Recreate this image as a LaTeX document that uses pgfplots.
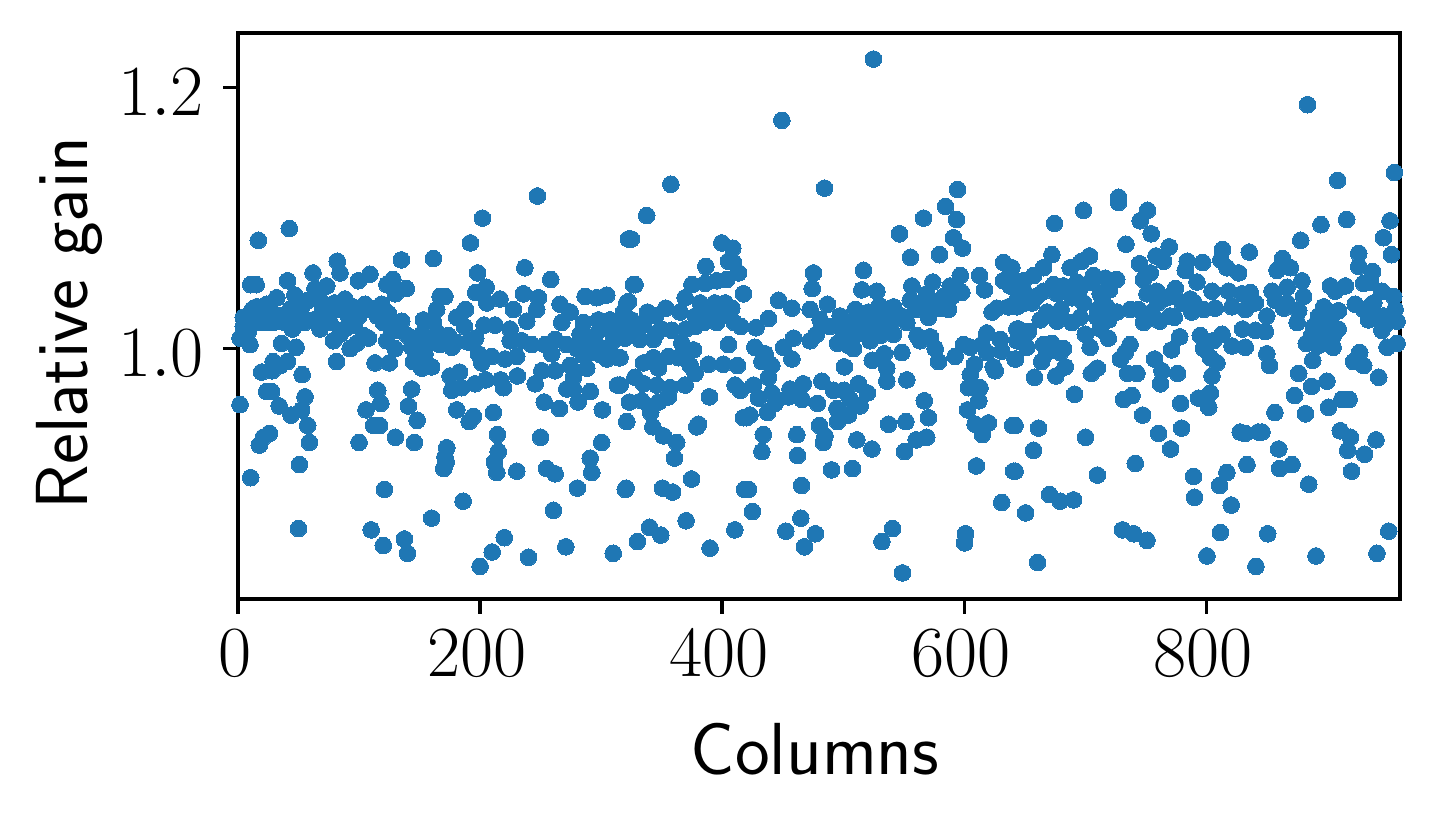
\documentclass[border=0pt]{standalone}
\usepackage{pgfplots}
\pgfplotsset{compat=1.18}
\definecolor{tabblue}{HTML}{1F77B4}
\begin{document}
\begin{tikzpicture}
\useasboundingbox (-57.12pt,-53.28pt) rectangle (286.8pt,143.76pt);
\begin{axis}[
  at={(0,0)}, anchor=south west,
  scale only axis, width=278.88pt, height=135.84pt,
  xmin=0, xmax=960, ymin=0.808, ymax=1.242,
  xtick={0,200,400,600,800}, ytick={1.0,1.2},
  tick align=outside, tick pos=left, major tick length=3.5pt,
  axis line style={line width=0.8pt}, every tick/.style={line width=0.8pt,black},
  axis on top,
  tick label style={font=\fontsize{16}{19}\selectfont},
  xticklabel style={xshift=-0.7pt,yshift=-0.5pt},
  yticklabel style={xshift=-1.2pt,yshift=-1.2pt,/pgf/number format/fixed,/pgf/number format/fixed zerofill,/pgf/number format/precision=1},
  xlabel={Columns}, ylabel={Relative gain},
  xlabel style={at={(axis description cs:0.4966,-0.265)},anchor=center,font=\fontsize{17.7}{21}\selectfont\sffamily},
  ylabel style={at={(axis description cs:-0.1454,0.4876)},anchor=center,font=\fontsize{17.7}{21}\selectfont\sffamily},
]
\addplot[only marks,mark=*,mark size=2pt,color=tabblue,mark options={line width=0pt}] coordinates {
% left part
(1.7,0.957)(10.5,0.901)(16.8,1.083)(42.4,1.092)(10.5,1.049)(15,1.049)(41,1.052)(62,1.058)(82,1.067)(84.3,1.058)
(109,1.057)(99.5,1.052)(135,1.068)(161.4,1.069)(128,1.053)(123,1.049)(139,1.046)(130,1.042)(192,1.081)(202,1.100)
(247.4,1.117)(198,1.058)(205,1.047)(237,1.062)(258.4,1.053)(322.6,1.084)(326.7,1.049)
(50,0.862)(110,0.861)(120,0.849)(137.5,0.854)(140,0.843)(160,0.870)(186,0.883)(121,0.892)(50.7,0.911)(17.6,0.926)
(21,0.932)(26,0.935)(57.6,0.941)(59,0.928)(43.8,0.949)(34,0.956)(52.6,0.953)(55.4,0.963)(23.7,0.967)(27.8,0.967)
(53,0.980)(19.6,0.982)(29,0.990)(34.7,0.987)(40.8,0.990)(28.4,0.983)(100,0.928)(105.8,0.953)(115.4,0.968)(118,0.958)
(112,0.941)(117,0.941)(130,0.932)(145.7,0.928)(148,0.945)(140.8,0.956)(143.5,0.969)(172.5,0.924)(171,0.917)(170,0.908)
(172,0.913)(180.7,0.953)(194.5,0.948)(191,0.944)(211,0.951)(214.3,0.934)(215,0.921)(211.8,0.913)(213.8,0.905)(230.3,0.906)
(255,0.908)(262,0.904)(250,0.932)(280.4,0.893)(291,0.916)(292.3,0.905)(300.5,0.928)(301,0.953)(320,0.892)(260.6,0.876)
(270.8,0.848)(240,0.840)(220,0.855)(210,0.844)(200,0.833)(310,0.843)(313.5,0.972)(291,0.967)(281,0.959)(265.6,0.954)
(253,0.959)(245.5,0.973)(230.8,0.979)(219.3,0.970)
(4.4,1.024)(4.4,1.017)(1.7,1.008)(9.9,1.003)(8.5,1.013)(15.4,1.032)(16.8,1.020)(23.7,1.034)(32,1.039)(22.3,1.020)
(29.2,1.020)(38.8,1.020)(36,1.004)(48,1.001)(43,1.030)(49.9,1.022)(47,1.041)(58,1.037)(63.6,1.046)(73.3,1.048)
(67.8,1.037)(62.3,1.022)(67.8,1.015)(78.8,1.006)(76,1.020)(84.3,1.011)(88.4,1.038)(84.3,1.030)(91.2,1.025)(92.6,1.000)
(98,1.004)(103.6,1.010)(107.7,1.008)(105,1.034)(110.5,1.030)(118.7,1.034)(124.2,1.027)(135.3,1.021)(132.5,1.014)(122.9,1.006)
(129.8,1.000)(143.5,1.001)(154.5,0.996)(144.9,0.990)(151.8,0.985)(160,0.986)(153.2,1.022)(164.2,1.030)(151.8,1.011)(161.4,1.020)
(167,1.040)(171,1.040)(173.8,1.010)(167,1.003)(176.6,1.001)(180.7,1.024)(188,1.030)(187,1.017)(196.4,1.008)(198.6,0.996)
(209.6,0.994)(201.4,0.989)(220.7,0.992)(230.3,0.994)(196.4,1.043)(203.3,1.018)(212.4,1.018)(205.5,1.035)(216.5,1.038)(227.5,1.030)
(235.8,1.042)(248.2,1.039)(246.8,1.030)(238.6,1.021)(224.8,1.015)(224.8,1.006)(234.4,1.006)(242.7,1.003)(253.7,1.003)(259.2,0.996)
(262,1.007)(266.1,1.034)(274.4,1.028)(267.5,1.020)(285.4,1.020)(286.8,1.040)(296.4,1.039)(304.7,1.041)(297.8,1.022)(307.4,1.022)
(318.5,1.028)(321.2,1.035)(274.4,0.987)(288.2,0.985)(277.1,0.978)(304.7,0.992)(314.3,0.993)(271.6,1.003)(285.4,1.006)(290.9,0.997)
(296.4,1.003)(310.2,1.006)(321.2,1.011)(282.6,1.011)(318.5,1.020)(310.2,1.014)(251,0.983)(262,0.983)(175.2,0.979)(183,0.982)
(176.6,0.968)(184.8,0.970)(195.9,0.973)(204.7,0.976)(217,0.976)(113.2,0.989)(125,0.989)(81.5,0.990)(271.6,0.969)(277,0.969)
% middle part
(525,1.222)(449.3,1.175)(357.6,1.126)(484.6,1.123)(337.7,1.102)(325,1.084)(594.5,1.122)(584.6,1.109)(593.7,1.099)(566.4,1.100)
(546.5,1.088)(591,1.085)(598.6,1.077)(579.6,1.072)(555.6,1.070)(399.7,1.081)(408.8,1.077)(405.2,1.067)(409.4,1.066)(386.5,1.063)
(413.5,1.058)(403.9,1.053)(395.6,1.052)(386,1.050)(375,1.049)(369.4,1.039)(328,1.049)(322.6,1.036)(417.6,1.042)(475.5,1.058)
(474.4,1.046)(516.8,1.060)(515.4,1.045)(527.8,1.044)(446.6,1.037)(457.6,1.031)(472.7,1.030)(487,1.034)(497.5,1.025)(510,1.030)
(438.3,1.023)(481,1.022)(338.3,1.028)(353.4,1.031)(365.3,1.028)(381.8,1.035)(394,1.035)(402.5,1.035)(408,1.031)(388.7,1.028)
(395.6,1.020)(377.7,1.017)(415.4,1.017)(428,1.016)(358.4,1.014)(346,1.012)(326.7,1.015)(319.8,1.008)(332,1.007)(343.2,1.007)
(366.7,1.004)(405.2,1.003)(376.3,0.999)(355.6,0.994)(343.2,0.993)(335,0.989)(315.7,0.993)(347.4,0.985)(364,0.993)(373.6,0.987)
(377.7,0.981)(388.7,0.988)(401,0.988)(412.7,0.987)(315.7,0.972)(328,0.978)(335,0.973)(346,0.972)(357,0.970)(369.4,0.972)
(355.6,0.963)(347.4,0.959)(323.4,0.959)(333.6,0.960)(341,0.951)(321.2,0.944)(342.7,0.940)(351.5,0.933)(362.5,0.928)(360.6,0.916)
(380.4,0.942)(379,0.940)(389.5,0.963)(410.7,0.972)(415,0.968)(426,0.972)(430,0.962)(438.3,0.978)(441,0.966)(443.8,0.958)
(437.5,0.951)(454.8,0.963)(456,0.969)(467,0.973)(466,0.961)(478.8,0.958)(482.4,0.975)(492,0.968)(500.8,0.968)(512.7,0.973)
(520,0.966)(514,0.956)(505.8,0.961)(494.8,0.954)(504.4,0.949)(495.3,0.944)(423,0.949)(420,0.947)(417.6,0.947)(434,0.934)
(432.8,0.921)(461.7,0.934)(462.3,0.918)(480.4,0.941)(485,0.933)(483.7,0.928)(511.3,0.930)(523.7,0.923)(537.5,0.942)(551.8,0.944)
(570.5,0.947)(567,0.960)(569,0.932)(560.3,0.930)(550.7,0.921)(490.4,0.907)(507.7,0.908)(465.6,0.895)(374.7,0.900)(320.7,0.893)
(350.7,0.893)(359,0.890)(418.5,0.892)(421.8,0.892)(425,0.875)(370.2,0.868)(340,0.863)(349.3,0.857)(330,0.852)(390,0.847)
(410.5,0.861)(452.6,0.860)(465,0.870)(477,0.858)(468,0.848)(540.8,0.862)(532,0.852)(549,0.828)(601,0.858)(600.3,0.851)
(631,0.882)(610,0.910)(640.8,0.906)(612,0.960)(602.8,0.953)(609,0.942)(620,0.943)(615,0.934)(640,0.941)(625.6,0.983)
(624,0.986)(608.6,0.988)(605,0.980)(606.4,0.972)(613,0.970)(603.6,0.970)(592.5,0.994)(578.8,0.990)(576,1.000)(572,1.009)
(563.6,1.006)(561,1.010)(548.5,0.997)(552.6,0.976)(536,0.975)(536,0.985)(534,0.996)(524,0.991)(501,0.986)(508.5,1.000)
(495.3,1.004)(472.7,1.006)(459,1.008)(478,1.011)(450.7,1.001)(457.6,0.992)(427,1.001)(435.5,0.996)(432.8,0.990)(441,0.987)
(489,1.017)(500,1.014)(511.3,1.011)(522.3,1.006)(530.6,1.010)(541.6,1.011)(521,1.028)(530.6,1.025)(541.6,1.032)(552.6,1.020)
(556.7,1.048)(555.4,1.037)(569,1.042)(574,1.051)(588.4,1.048)(596.7,1.056)(598,1.043)(580,1.031)(587,1.030)(570.5,1.024)
(563.6,1.035)(522.3,1.020)(536,1.017)(514,1.020)(612.7,1.056)(616.8,1.045)(632.5,1.066)(639.4,1.062)(632.5,1.052)(623,1.028)
(627,1.031)(636.6,1.032)(643.5,1.037)(643.5,1.015)(618.7,1.012)(629.8,1.007)(643.5,1.006)(599.4,1.003)(605,1.001)(614.6,1.003)
(618.7,0.997)(631,0.998)(642,0.992)
% right part
(883.7,1.187)(955.4,1.135)(908.5,1.129)(727.5,1.116)(727.5,1.112)(698.6,1.106)(751.5,1.106)(745.4,1.098)(674.6,1.096)(754.5,1.088)
(894.7,1.095)(916,1.099)(951.8,1.098)(878,1.083)(946.5,1.085)(733.6,1.080)(952.9,1.072)(835.5,1.074)(813.5,1.076)(672.4,1.072)
(769.4,1.078)(758.4,1.071)(764.7,1.067)(703.6,1.071)(697,1.067)(687.6,1.062)(744.9,1.065)(784.3,1.067)(797,1.066)(782.6,1.060)
(812,1.068)(817,1.062)(826.7,1.058)(863,1.069)(869.4,1.062)(858.4,1.060)(925.9,1.073)(925.9,1.063)(937.4,1.059)(930,1.050)
(935.5,1.051)(665.5,1.062)(657.3,1.056)(638,1.062)(640.8,1.053)(649,1.052)(665.5,1.044)(673.8,1.049)(693,1.051)(682,1.048)
(706.9,1.056)(716.5,1.054)(726,1.053)(704,1.051)(753.7,1.058)(748,1.053)(759,1.044)(751,1.042)(767.5,1.039)(774.4,1.046)
(792.3,1.051)(786.8,1.038)(804.7,1.044)(818.4,1.044)(836.3,1.043)(829.5,1.042)(854.3,1.044)(866.7,1.047)(879,1.052)(880.4,1.040)
(902.5,1.048)(914.9,1.048)(906.6,1.044)(945,1.044)(954.8,1.040)(938.3,1.035)(857,1.037)(866.7,1.035)(840.5,1.035)(656,1.035)
(643.5,1.032)(638,1.048)(676.6,1.042)(689,1.039)(698.6,1.035)(712.4,1.042)(717.9,1.032)(726.2,1.028)(737.2,1.030)(744,1.030)
(755,1.028)(773.5,1.024)(788,1.028)(797.8,1.030)(807.4,1.031)(821.2,1.032)(832.2,1.030)(850,1.025)(876.3,1.029)(875,1.020)
(863.9,1.031)(897,1.032)(909.3,1.029)(892.8,1.025)(923,1.034)(930,1.030)(937,1.034)(946.5,1.025)(956,1.030)(957.6,1.021)
(945,1.014)(934,1.022)(668.3,1.028)(662.8,1.022)(676.6,1.021)(689,1.020)(695.9,1.024)(709.6,1.024)(748.2,1.020)(761.4,1.021)
(719.3,1.022)(712.4,1.015)(650.4,1.035)(644.9,1.015)(653,1.013)(700,1.011)(719,1.008)(646,1.008)(651.8,1.001)(665.5,1.003)
(672.4,1.004)(704,1.001)(682,1.000)(668.3,0.997)(737,1.003)(733,0.997)(778,1.009)(771.3,0.999)(795,1.010)(797.8,1.000)
(813,1.011)(806,1.006)(821.2,1.002)(832.2,1.001)(830,1.015)(840.5,1.014)(848.7,1.013)(850,0.996)(852.3,0.987)(882.6,1.004)
(888.7,1.017)(899.7,1.014)(906.6,1.015)(897,1.006)(904.7,1.001)(949.3,1.001)(957.6,1.004)(926.7,0.997)(921.7,0.990)(930,0.987)
(887.9,0.991)(876.3,0.981)(887,0.971)(899.7,0.975)(873,0.964)(882,0.950)(901,0.955)(912,0.961)(918,0.961)(942.4,0.978)
(856.7,0.951)(803.3,0.966)(793.6,0.962)(802,0.955)(804.7,0.979)(808.8,0.989)(803.3,0.993)(642.4,0.992)(664,0.990)(658,0.978)
(675.7,0.979)(683.5,0.986)(679.3,0.997)(705,0.981)(710,0.985)(729,0.992)(735,0.981)(742.7,0.981)(757.3,0.992)(763.3,0.983)
(776.3,0.981)(762.2,0.973)(691.2,0.965)(731.7,0.961)(738.6,0.964)(747.4,0.949)(778.8,0.958)(779.6,0.939)(760.6,0.935)(770.5,0.923)
(642,0.941)(661.4,0.939)(657.3,0.922)(700.3,0.932)(642,0.906)(710,0.903)(741.3,0.912)(670.5,0.888)(679.3,0.883)(690.3,0.884)
(650.7,0.874)(660.6,0.836)(730.8,0.861)(740,0.858)(751,0.853)(789.5,0.902)(790.3,0.886)(817,0.905)(811,0.895)(820.6,0.880)
(811.6,0.859)(800.5,0.841)(841,0.833)(850.7,0.858)(828,0.936)(832,0.935)(843,0.936)(846,0.936)(833.6,0.911)(859.8,0.923)
(860.6,0.908)(870.8,0.911)(884.6,0.896)(890.6,0.841)(910.7,0.937)(919,0.932)(916.8,0.922)(930.8,0.919)(940.2,0.930)(920,0.906)
(941,0.843)(950.7,0.860)(891.4,1.020)(902.5,1.022)(909,1.015)(887,1.010)(894,1.011)
% inside the dense band
(12,1.030)(20,1.027)(28,1.028)(35,1.025)(45,1.015)(52,1.030)(55,1.020)(70,1.030)(72,1.024)(80,1.035)
(95,1.032)(96,1.018)(88,1.015)(100,1.025)(115,1.025)(120,1.020)(127,1.015)(140,1.010)(150,1.002)(158,1.005)
(165,1.012)(180,1.005)(190,1.005)(280,1.000)(295,1.010)(300,1.015)(305,1.000)(290,1.005)(285,0.995)(300,0.995)
(312,1.020)(325,1.022)(335,1.018)(345,1.025)(350,1.015)(370,1.015)(378,1.025)(385,1.020)(400,1.025)(410,1.020)
(500,1.008)(510,1.020)(520,1.015)(530,1.017)(540,1.020)(548,1.025)(530,1.033)(545,1.025)(560,1.030)(575,1.035)
(583,1.040)(590,1.040)(505,1.002)(760,1.035)(770,1.025)(780,1.035)(790,1.035)(695,1.045)(710,1.030)(720,1.045)
(680,1.030)(660,1.040)(650,1.043)(900,1.025)(950,1.020)(905,1.010)(892,1.002)(895,1.015)
};
\end{axis}
\end{tikzpicture}
\end{document}
